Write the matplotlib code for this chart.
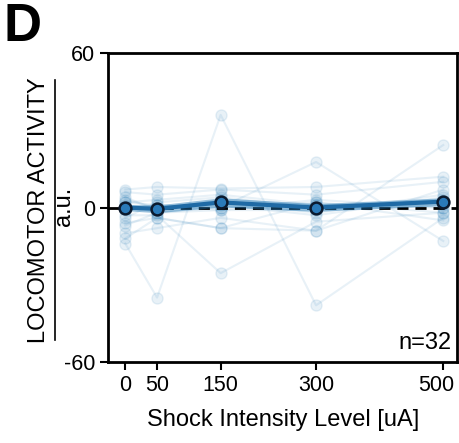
import matplotlib
matplotlib.use("Agg")
import matplotlib.pyplot as plt
from matplotlib.lines import Line2D
from matplotlib.transforms import offset_copy
import numpy as np

plt.rcParams['font.family'] = ['Liberation Sans', 'DejaVu Sans']
plt.rcParams['axes.unicode_minus'] = False

# shock levels (uA)
levels = [0, 50, 150, 300, 500]

# individual animals (faint lines)
animals = [
    [-14, -35, 36, -38, -4],
    [-3, -3, -25.5, -5.5, -2],
    [2, 1, 0, 17.7, -13],
    [-6, -4, -8, -9, 24.3],
    [7, 8, 7.4, 8, 12],
    [6, 5, 7, 5, 10],
    [-10, -8, -4, -9, 7],
    [-12, -4, -8, 2, -5],
    [-4, 2, 4, 0, 3],
    [3, 0, 2, -2, 5],
    [1, -2, 0, 2, -2],
    [0, 1, -1, -1, 1],
    [-7, -2, -1, 3, 0],
    [2, 3, 5, 1, 2],
    [-1, 0, 1, -3, 4],
    [4, -1, 3, 1, 0],
]

# group mean and sem
mean_act = [0, -0.5, 2, 0, 2.3]
sem_act = [1.2, 1.5, 1.8, 1.5, 1.5]

n_animals = 32
blue = '#1f77b4'

fig = plt.figure(figsize=(4.6, 4.43), dpi=100)
ax = fig.add_axes([0.235, 0.183, 0.759, 0.697])

for a in animals:
    ax.plot(levels, a, color=blue, alpha=0.1, lw=1.5, marker='o', ms=8,
            mfc=blue, mec=blue, zorder=2)

ax.axhline(0, color='k', ls='--', lw=2, dashes=(4, 2.5), zorder=3)

m = np.array(mean_act)
s = np.array(sem_act)
ax.fill_between(levels, m - s, m + s, color=blue, alpha=0.45, lw=0, zorder=4)
ax.plot(levels, mean_act, color='#1f6aa5', lw=3, zorder=5)
ax.plot(levels, mean_act, ls='none', marker='o', ms=8.5, mfc='#2a7ab9',
        mec='#0b1a2e', mew=1.8, zorder=6)

ax.set_xlim(-27, 522)
ax.set_ylim(-60, 60)
ax.set_xticks(levels)
ax.set_yticks([-60, 0, 60])
ax.tick_params(labelsize=15.5, width=1.5, length=6, direction='out')
for sp in ax.spines.values():
    sp.set_linewidth(2)
# last tick label sits a bit left of its tick in the original
lab = ax.xaxis.get_major_ticks()[-1].label1
lab.set_transform(offset_copy(lab.get_transform(), fig=fig, x=-7, units='dots'))

ax.set_xlabel('Shock Intensity Level [uA]', fontsize=17, labelpad=9)
ax.text(0.985, 0.025, 'n=%d' % n_animals, transform=ax.transAxes,
        ha='right', va='bottom', fontsize=17)

# fraction-style y label
fig.text(0.085, 0.526, 'LOCOMOTOR ACTIVITY', rotation=90, ha='center',
         va='center', fontsize=17)
fig.text(0.14, 0.535, 'a.u.', rotation=90, ha='center', va='center',
         fontsize=17)
fig.add_artist(Line2D([0.12, 0.12], [0.232, 0.82], color='k', lw=1.2,
                      transform=fig.transFigure))

fig.text(0.008, 0.995, 'D', fontsize=38, fontweight='bold', ha='left', va='top')

fig.savefig('out.png', dpi=100)
